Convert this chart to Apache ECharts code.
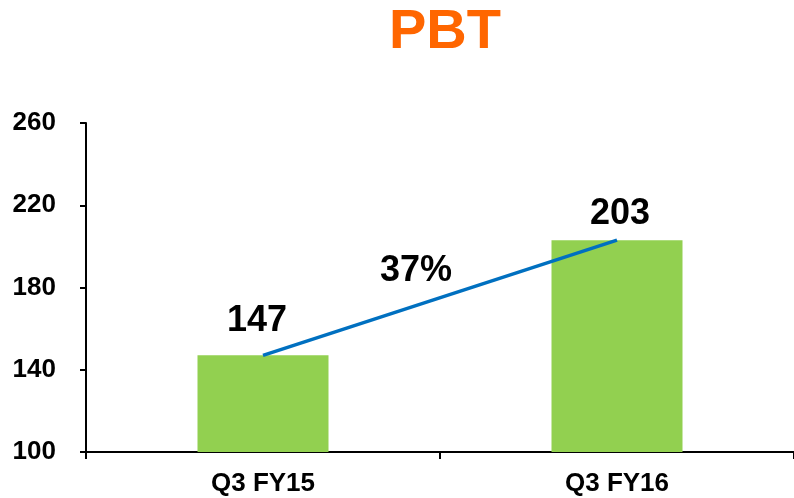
<!DOCTYPE html>
<html>
<head>
<meta charset="utf-8">
<script src="https://cdn.jsdelivr.net/npm/echarts@6/dist/echarts.min.js"></script>
<style>
  html, body { margin: 0; padding: 0; background: #fff; }
  #main { width: 794px; height: 498px; }
</style>
</head>
<body>
<div id="main"></div>
<script>
// data
const categories = ['Q3 FY15', 'Q3 FY16']
const pbtValues = [147, 203]
const growthLabel = '37%'
const yTicks = [100, 140, 180, 220, 260]

const font = 'Liberation Sans, Arial, sans-serif'
const chart = echarts.init(document.getElementById('main'))

const option = {
  animation: false,
  backgroundColor: '#fff',
  title: {
    text: 'PBT',
    left: 384,
    top: 0,
    textStyle: { color: '#FF6600', fontSize: 56, fontWeight: 'bold', fontFamily: font }
  },
  grid: { left: 86, top: 123, width: 712, height: 329 },
  xAxis: {
    type: 'category',
    data: categories,
    axisLine: { lineStyle: { color: '#000', width: 2 } },
    axisTick: { show: true, length: 7, lineStyle: { color: '#000', width: 2 } },
    axisLabel: { color: '#000', fontSize: 26, fontWeight: 'bold', fontFamily: font, margin: 19 }
  },
  yAxis: {
    type: 'value',
    min: yTicks[0],
    max: yTicks[yTicks.length - 1],
    interval: 40,
    splitLine: { show: false },
    axisLine: { show: true, lineStyle: { color: '#000', width: 2 } },
    axisTick: { show: true, length: 6, lineStyle: { color: '#000', width: 2 } },
    axisLabel: { color: '#000', fontSize: 26, fontWeight: 'bold', fontFamily: font, margin: 30 }
  },
  series: [
    {
      type: 'bar',
      data: pbtValues.map((v, i) => ({
        value: v,
        label: i === 0 ? { offset: [-6, -8] } : { offset: [3, 0] }
      })),
      barWidth: 131,
      itemStyle: { color: '#92D050' },
      label: {
        show: true,
        position: 'top',
        distance: 8,
        color: '#000',
        fontSize: 36,
        fontWeight: 'bold',
        fontFamily: font
      },
      z: 1
    },
    {
      type: 'line',
      data: pbtValues,
      symbol: 'none',
      lineStyle: { color: '#0070C0', width: 3.5 },
      z: 3
    }
  ],
  graphic: [
    {
      type: 'text',
      left: 380,
      top: 253,
      style: {
        text: growthLabel,
        fill: '#000',
        font: 'bold 36px ' + font
      }
    }
  ]
}

chart.setOption(option)
</script>
</body>
</html>
